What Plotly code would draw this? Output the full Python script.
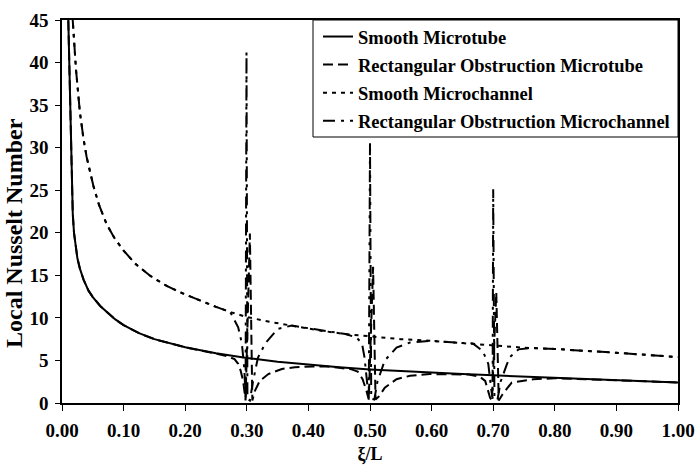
import plotly.graph_objects as go

# ---- data ----
smooth_tube_x = [0.008, 0.0103, 0.0125, 0.0157, 0.0175, 0.0195, 0.022, 0.025, 0.029, 0.035,
                 0.043, 0.05, 0.062, 0.075, 0.086, 0.1, 0.125, 0.15, 0.175, 0.2, 0.25, 0.3,
                 0.35, 0.4, 0.45, 0.5, 0.55, 0.6, 0.65, 0.7, 0.75, 0.8, 0.85, 0.9, 0.95, 1.0]
smooth_tube_y = [52, 45, 35, 25.4, 22.2, 20.0, 18.3, 17.0, 15.8, 14.5,
                 13.2, 12.45, 11.4, 10.5, 9.85, 9.15, 8.2, 7.5, 7.0, 6.55, 5.85, 5.3,
                 4.85, 4.5, 4.2, 3.95, 3.75, 3.55, 3.4, 3.25, 3.1, 2.95, 2.8, 2.7, 2.55, 2.4]

rect_tube_x = [0.008, 0.0103, 0.0125, 0.0157, 0.0175, 0.0195, 0.022, 0.025, 0.029, 0.035,
               0.043, 0.05, 0.062, 0.075, 0.086, 0.1, 0.125, 0.15, 0.175, 0.2, 0.25, 0.27,
               0.28, 0.286, 0.29, 0.294, 0.298, 0.305, 0.309, 0.313, 0.321, 0.335, 0.357,
               0.378, 0.407, 0.43, 0.45, 0.47, 0.48, 0.488, 0.494, 0.498, 0.505, 0.509,
               0.515, 0.524, 0.543, 0.565, 0.597, 0.635, 0.66, 0.678, 0.687, 0.695, 0.698,
               0.705, 0.709, 0.715, 0.73, 0.765, 0.8, 0.85, 0.9, 0.95, 1.0]
rect_tube_y = [52, 45, 35, 25.4, 22.2, 20.0, 18.3, 17.0, 15.8, 14.5,
               13.2, 12.45, 11.4, 10.5, 9.85, 9.15, 8.2, 7.5, 7.0, 6.55, 5.8, 5.45,
               5.15, 4.6, 3.8, 2.6, 0.3, 19.9, 0.3, 1.4, 2.6, 3.4, 4.0,
               4.2, 4.3, 4.3, 4.15, 3.95, 3.7, 2.8, 1.5, 0.4, 16.0, 0.4,
               0.8, 1.8, 2.8, 3.2, 3.4, 3.4, 3.35, 3.1, 2.6, 0.6, 0.3,
               13.0, 0.3, 1.0, 2.4, 2.8, 2.9, 2.8, 2.7, 2.55, 2.4]

smooth_chan_x = [0.013, 0.0174, 0.0227, 0.029, 0.035, 0.04, 0.051, 0.06, 0.0725, 0.085,
                 0.1, 0.12, 0.143, 0.17, 0.2, 0.225, 0.25, 0.275, 0.3, 0.34, 0.38, 0.42,
                 0.46, 0.5, 0.55, 0.6, 0.65, 0.7, 0.75, 0.8, 0.85, 0.9, 0.95, 1.0]
smooth_chan_y = [55, 45, 39.2, 34.2, 31.0, 28.9, 25.5, 23.3, 21.0, 19.4,
                 17.9, 16.3, 14.95, 13.75, 12.75, 12.0, 11.3, 10.65, 10.1, 9.5, 9.0, 8.5,
                 8.1, 7.8, 7.5, 7.3, 7.05, 6.8, 6.5, 6.35, 6.15, 5.9, 5.65, 5.4]

rect_chan_x = [0.013, 0.0174, 0.0227, 0.029, 0.035, 0.04, 0.051, 0.06, 0.0725, 0.085,
               0.1, 0.12, 0.143, 0.17, 0.2, 0.225, 0.25, 0.273, 0.286, 0.292, 0.296, 0.298,
               0.2995, 0.301, 0.305, 0.31, 0.318, 0.33, 0.35, 0.373, 0.4, 0.42, 0.46,
               0.478, 0.487, 0.491, 0.496, 0.498, 0.5, 0.502, 0.507, 0.512, 0.524, 0.543,
               0.565, 0.6, 0.65, 0.667, 0.683, 0.692, 0.697, 0.699, 0.7, 0.702, 0.707,
               0.712, 0.722, 0.727, 0.741, 0.76, 0.8, 0.85, 0.9, 0.95, 1.0]
rect_chan_y = [55, 45, 39.2, 34.2, 31.0, 28.9, 25.5, 23.3, 21.0, 19.4,
               17.9, 16.3, 14.95, 13.75, 12.75, 12.0, 11.3, 10.7, 8.9, 7.0, 4.0, 0.5,
               41.2, 0.5, 0.3, 2.5, 5.3, 7.0, 8.7, 9.1, 8.8, 8.5, 8.1,
               7.7, 7.0, 5.4, 2.0, 0.5, 30.6, 0.5, 0.4, 2.5, 5.0, 6.5,
               7.1, 7.3, 7.05, 7.0, 6.1, 4.6, 1.5, 0.5, 25.1, 0.5, 0.4,
               2.5, 4.5, 5.4, 6.3, 6.45, 6.35, 6.15, 5.9, 5.65, 5.4]

series_names = ["Smooth Microtube", "Rectangular Obstruction Microtube",
                "Smooth Microchannel", "Rectangular Obstruction Microchannel"]

x_ticks = [0.0, 0.1, 0.2, 0.3, 0.4, 0.5, 0.6, 0.7, 0.8, 0.9, 1.0]
y_ticks = [0, 5, 10, 15, 20, 25, 30, 35, 40, 45]

x_title = "ξ/L"
y_title = "Local Nusselt Number"

FONT = "Liberation Serif"
FS = 19

# plot area in pixels: x 62..678, y 20..403
PL, PR, PT, PB = 62, 678, 20, 403
PW, PH = PR - PL, PB - PT

fig = go.Figure()
styles = ["solid", "10px,5px", "4px,5px", "12px,6px,3px,6px"]
xs = [smooth_tube_x, rect_tube_x, smooth_chan_x, rect_chan_x]
ys = [smooth_tube_y, rect_tube_y, smooth_chan_y, rect_chan_y]
for i in range(4):
    fig.add_trace(go.Scatter(
        x=xs[i], y=ys[i], mode="lines", name=series_names[i],
        legendgroup=f"g{i}",
        line=dict(color="black", width=2, dash=styles[i]),
    ))

# legend frame (box from x=313 to plot right, y=plot top to 137)
fig.add_shape(type="rect", xref="paper", yref="paper",
              x0=(313 - PL) / PW, x1=1.0, y0=(PB - 137) / PH, y1=1.0,
              line=dict(color="black", width=1), fillcolor="white", layer="above")

# y-axis title (placed like the reference, slightly below the plot centre)
fig.add_annotation(text=y_title, xref="paper", yref="paper",
                   x=(14 - PL) / PW, y=(PB - 233) / PH, xanchor="center", yanchor="middle",
                   textangle=-90, showarrow=False,
                   font=dict(family=FONT, size=24, color="black", weight="bold"))

fig.update_layout(
    width=695, height=465,
    margin=dict(l=PL, r=695 - PR, t=PT, b=465 - PB, autoexpand=False),
    plot_bgcolor="white", paper_bgcolor="white",
    font=dict(family=FONT, size=FS, color="black"),
    showlegend=True,
    legend=dict(
        x=(318 - PL) / PW, y=1 + 2 / PH, xanchor="left", yanchor="top",
        bgcolor="rgba(0,0,0,0)", borderwidth=0,
        font=dict(family=FONT, size=18.5, color="black", weight="bold"),
        tracegroupgap=1,
    ),
)
fig.update_xaxes(
    range=[0, 1], tickvals=x_ticks, tickformat=".2f",
    ticks="outside", ticklen=6, tickcolor="black", tickwidth=1,
    showline=True, linecolor="black", linewidth=1.5, mirror=True,
    showgrid=False, zeroline=False, automargin=False,
    tickfont=dict(family=FONT, size=FS, color="black", weight="bold"),
    ticklabelstandoff=3,
    title=dict(text=x_title, font=dict(family=FONT, size=18, color="black", weight="bold"),
               standoff=10),
)
fig.update_yaxes(
    range=[0, 45], tickvals=y_ticks,
    ticks="outside", ticklen=5, tickcolor="black", tickwidth=1,
    showline=True, linecolor="black", linewidth=1.5, mirror=True,
    showgrid=False, zeroline=False, automargin=False,
    tickfont=dict(family=FONT, size=FS, color="black", weight="bold"),
    ticklabelstandoff=3,
)

fig.write_html("out.html")
